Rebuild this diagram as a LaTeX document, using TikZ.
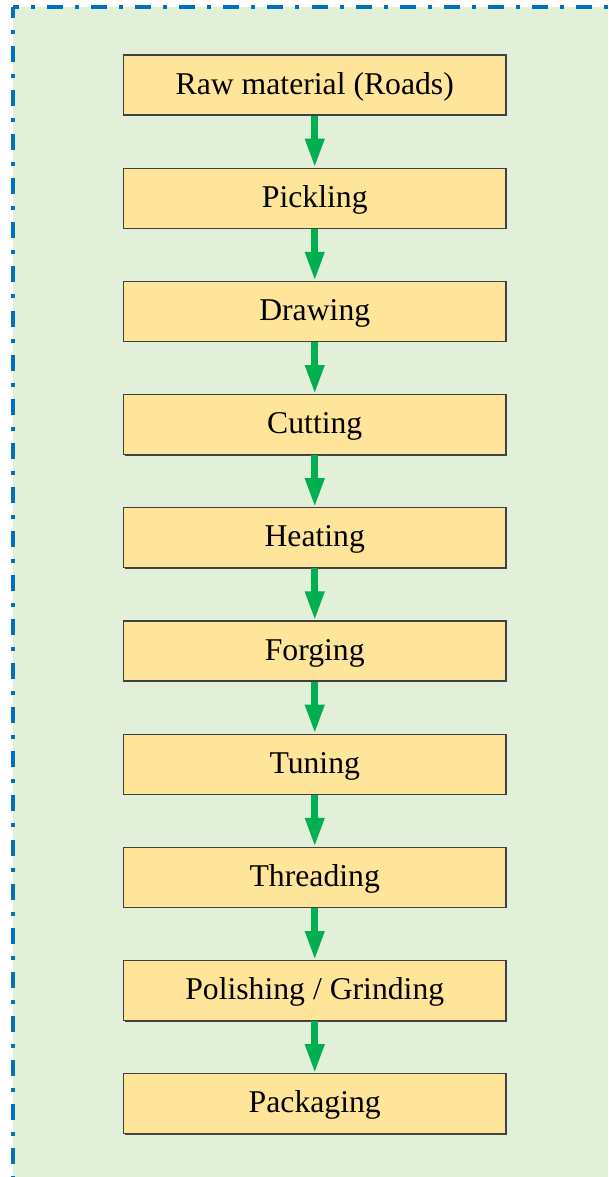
\documentclass[tikz,border=0pt]{standalone}
\usepackage{fontspec}
\setmainfont{Liberation Serif}
\usetikzlibrary{arrows.meta,shadows}
\definecolor{bgG}{HTML}{E2EFD9}
\definecolor{boxY}{HTML}{FFE599}
\definecolor{boxline}{HTML}{404040}
\definecolor{frameB}{HTML}{0070C0}
\definecolor{arrG}{HTML}{00B050}
\tikzset{
  stepbox/.style={draw=boxline, line width=1.2pt, fill=boxY, minimum width=382.5pt,
    minimum height=60pt, inner sep=0pt, font=\fontsize{31.7}{38}\selectfont,
    text height=23.8pt, text depth=5.7pt,
    drop shadow={shadow xshift=1pt, shadow yshift=-1pt, fill=black, opacity=0.7}},
  flow/.style={draw=arrG, line width=6.7pt, -{Triangle[width=18pt,length=29pt]}},
  framedash/.style={draw=frameB, line width=4pt, dash pattern=on 16pt off 12pt on 4pt off 12.08pt}
}
\begin{document}
\begin{tikzpicture}[x=1pt,y=-1pt]
\useasboundingbox (0,0) rectangle (608,1177);
\fill[bgG] (13,7) rectangle (608,1177);
\draw[framedash, dash phase=10pt] (13,7) -- (608,7);
\draw[framedash, dash phase=5pt] (13,7) -- (13,1177);
\node[stepbox] (b0) at (314.75,85.0) {Raw material (Roads)};
\node[stepbox] (b1) at (314.75,198.2) {Pickling};
\node[stepbox] (b2) at (314.75,311.4) {Drawing};
\node[stepbox] (b3) at (314.75,424.6) {Cutting};
\node[stepbox] (b4) at (314.75,537.8) {Heating};
\node[stepbox] (b5) at (314.75,651.0) {Forging};
\node[stepbox] (b6) at (314.75,764.2) {Tuning};
\node[stepbox] (b7) at (314.75,877.4) {Threading};
\node[stepbox] (b8) at (314.75,990.6) {Polishing / Grinding};
\node[stepbox] (b9) at (314.75,1103.8) {Packaging};
\foreach \a/\b in {b0/b1,b1/b2,b2/b3,b3/b4,b4/b5,b5/b6,b6/b7,b7/b8,b8/b9}
  \draw[flow] (\a.south) -- (\b.north);
\end{tikzpicture}
\end{document}
